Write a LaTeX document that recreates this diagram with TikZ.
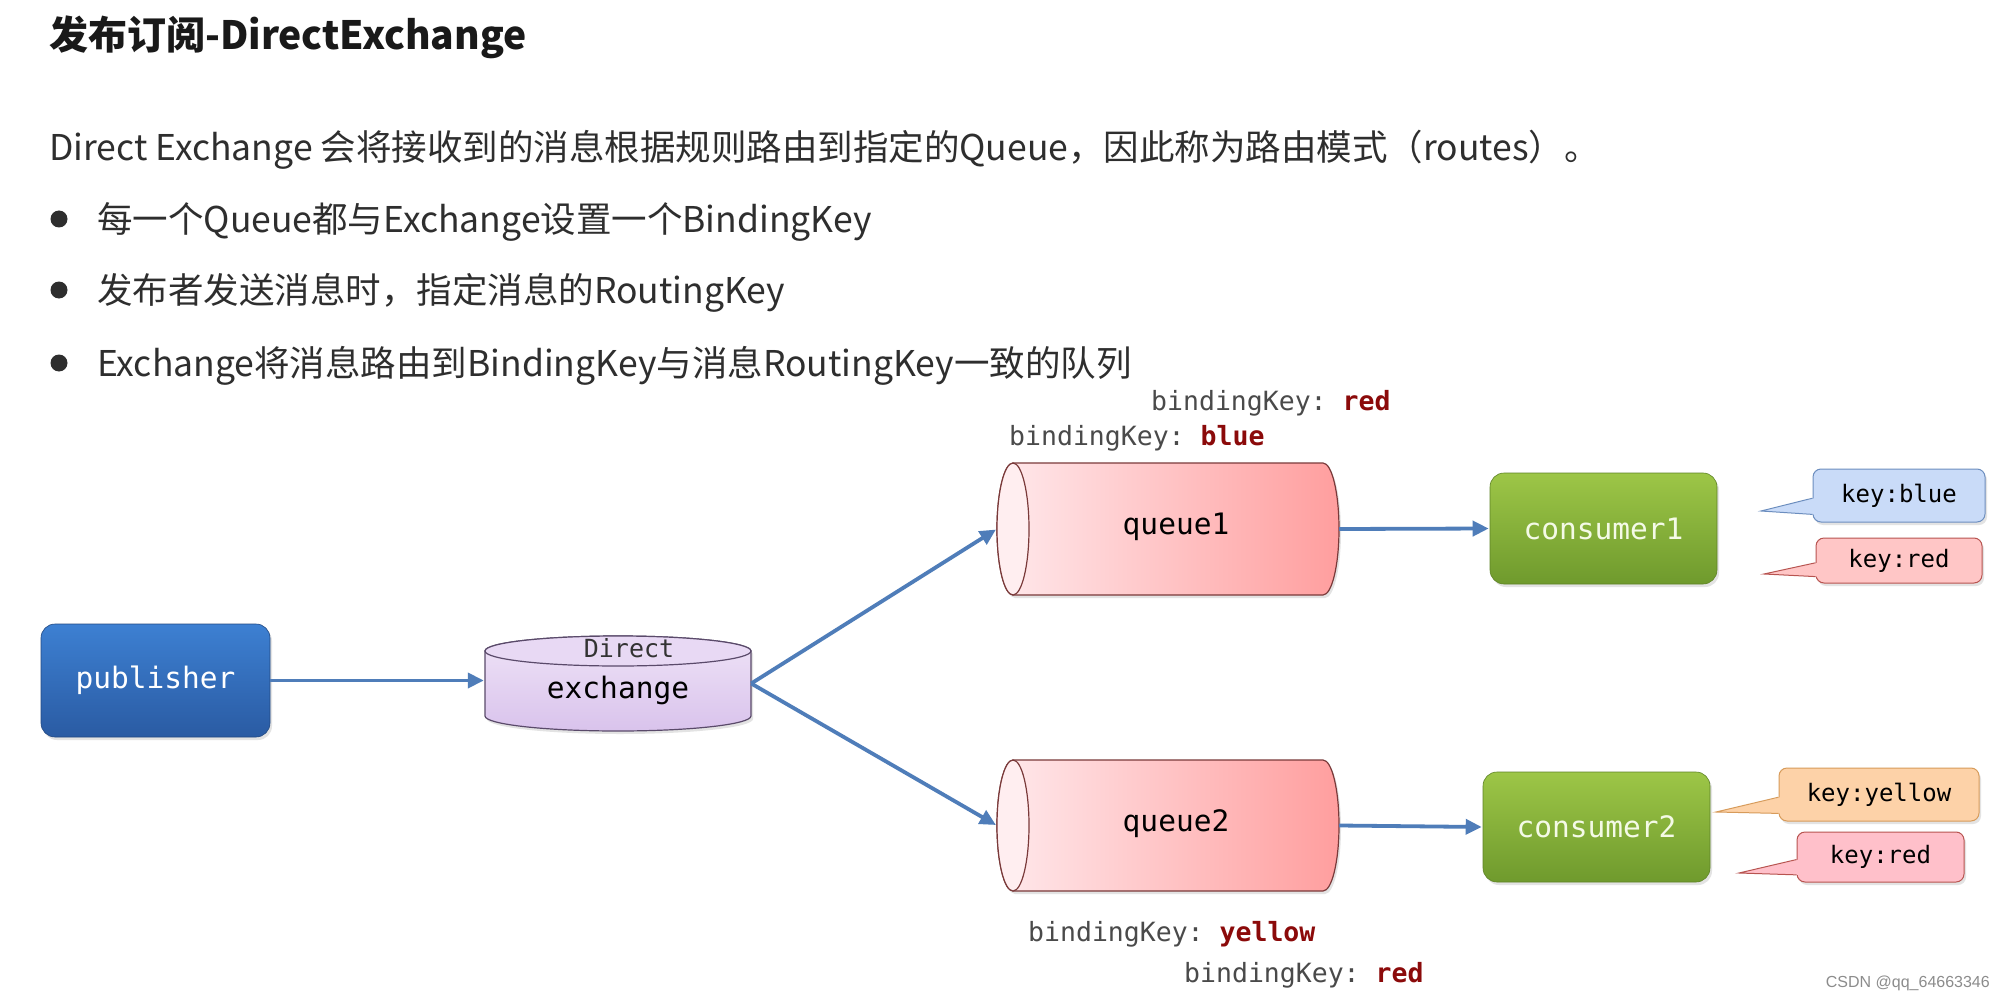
\documentclass[tikz,border=0pt]{standalone}
\usepackage{fontspec}
\setmainfont{Noto Sans CJK SC}
\newfontfamily\monof{DejaVu Sans Mono}
\newfontfamily\wmfont{Liberation Sans}
\usetikzlibrary{arrows.meta,shadows,calc}
\definecolor{arrowblue}{HTML}{4F7DB9}
\definecolor{bodytext}{HTML}{2E2E2E}
\definecolor{keygray}{HTML}{4A4A4A}
\definecolor{keyred}{HTML}{8B0A0A}
\definecolor{pubtop}{HTML}{3D80D2}
\definecolor{pubbot}{HTML}{2A5BA3}
\definecolor{contop}{HTML}{9DC647}
\definecolor{conbot}{HTML}{6F9A2D}
\definecolor{context}{HTML}{F4FAE6}
\definecolor{qleft}{HTML}{FFE9EC}
\definecolor{qright}{HTML}{FF9E9E}
\definecolor{qend}{HTML}{FFEEF0}
\definecolor{qline}{HTML}{7A3A3A}
\definecolor{extop}{HTML}{EFE3F7}
\definecolor{exbot}{HTML}{D9C3EC}
\definecolor{exline}{HTML}{5A4A6A}
\definecolor{cbfill}{HTML}{C9DBF8}
\definecolor{cbline}{HTML}{6C8EBF}
\definecolor{crfill}{HTML}{FFC6C6}
\definecolor{crline}{HTML}{B85450}
\definecolor{cyfill}{HTML}{FDD2A8}
\definecolor{cyline}{HTML}{D79B5A}
\definecolor{cpfill}{HTML}{FFC0CA}
\frenchspacing
\begin{document}
\begin{tikzpicture}[x=1pt,y=-1pt,
  arr/.style={draw=arrowblue, line width=3.8pt, -{Triangle[length=16pt,width=15pt]}, shorten >=1pt},
  boxshadow/.style={drop shadow={opacity=0.22, shadow xshift=2pt, shadow yshift=-3pt}},
  pubbox/.style={rounded corners=14pt, top color=pubtop, bottom color=pubbot, draw=pubbot!80!black, line width=0.6pt,
     minimum width=229pt, minimum height=113pt, inner sep=0, text=white, font=\monof\fontsize{29.5}{34}\selectfont, boxshadow},
  conbox/.style={rounded corners=14pt, top color=contop, bottom color=conbot, draw=conbot!85!black, line width=0.6pt,
     minimum height=111pt, minimum width=227pt, inner sep=0, text=context, font=\monof\fontsize{29.5}{34}\selectfont, boxshadow},
  anchorbox/.style={draw=none, inner sep=0},
  shapetext/.style={inner sep=0, text=black, font=\monof\fontsize{29.5}{34}\selectfont},
  keybox/.style={rounded corners=8pt, line width=1pt, inner sep=0, text=black, font=\monof\fontsize{24}{28}\selectfont},
  bkey/.style={anchor=base west, inner sep=0, text=keygray, font=\monof\fontsize{26.5}{30}\selectfont},
  body/.style={anchor=base west, inner sep=0, text=bodytext, font=\fontsize{35.5}{42}\selectfont},
  dot/.style={fill=bodytext}
]
\fill[white] (0,0) rectangle (2005,995);
\useasboundingbox (0,0) rectangle (2005,995);

% ---------- texts ----------
\node[anchor=base west, inner sep=0, text=black!90, font=\fontsize{39}{45}\selectfont\bfseries] (title) at (49,50) {发布订阅-DirectExchange};
\node[body] (intro) at (49,160.5) {Direct Exchange 会将接收到的消息根据规则路由到指定的Queue，因此称为路由模式（routes）。};
\fill[dot] (59,219) circle (8.5);
\node[body] (b1) at (97,232.5) {每一个Queue都与Exchange设置一个BindingKey};
\fill[dot] (59,290) circle (8.5);
\node[body] (b2) at (97,303.5) {发布者发送消息时，指定消息的RoutingKey};
\fill[dot] (59,363) circle (8.5);
\node[body] (b3) at (97,376.5) {Exchange将消息路由到BindingKey与消息RoutingKey一致的队列};

% ---------- publisher ----------
\node[pubbox] (pub) at (155.5,680.5) {publisher};

% ---------- exchange (vertical cylinder) ----------
\path[top color=extop, bottom color=exbot, draw=exline, line width=1.2pt, boxshadow]
  (485,651) -- (485,716) arc[start angle=180,end angle=0,x radius=133,y radius=15]
  -- (751,651) arc[start angle=0,end angle=-180,x radius=133,y radius=15] -- cycle;
\path[fill=extop!70!exbot, draw=exline, line width=1.2pt] (618,651) ellipse[x radius=133,y radius=15];
\node[anchorbox, minimum width=266pt, minimum height=95pt] (ex) at (618,683.5) {};
\node[shapetext, font=\monof\fontsize{25}{30}\selectfont, text=black!80] (exdirect) at (629,648) {Direct};
\node[shapetext] (exname) at (618,690) {exchange};

% ---------- queue1 ----------
\path[left color=qleft, right color=qright, draw=qline, line width=1.2pt, boxshadow]
  (1013,463) -- (1323,463) arc[start angle=-90,end angle=90,x radius=16,y radius=66]
  -- (1013,595) arc[start angle=90,end angle=270,x radius=16,y radius=66] -- cycle;
\path[fill=qend, draw=qline, line width=1.2pt] (1013,529) ellipse[x radius=16,y radius=66];
\node[anchorbox, minimum width=342pt, minimum height=132pt] (q1) at (1168,529) {};
\node[shapetext] (q1t) at (1176,527) {queue1};

% ---------- queue2 ----------
\path[left color=qleft, right color=qright, draw=qline, line width=1.2pt, boxshadow]
  (1013,760) -- (1323,760) arc[start angle=-90,end angle=90,x radius=16,y radius=65.5]
  -- (1013,891) arc[start angle=90,end angle=270,x radius=16,y radius=65.5] -- cycle;
\path[fill=qend, draw=qline, line width=1.2pt] (1013,825.5) ellipse[x radius=16,y radius=65.5];
\node[anchorbox, minimum width=342pt, minimum height=131pt] (q2) at (1168,825.5) {};
\node[shapetext] (q2t) at (1176,824) {queue2};

% ---------- consumers ----------
\node[conbox] (c1) at (1603.5,528.5) {consumer1};
\node[conbox, minimum height=110pt] (c2) at (1596.5,827) {consumer2};

% ---------- connectors ----------
\draw[arr] (pub.east) -- (pub.east -| ex.west);
\draw[arr] (ex.east) -- (q1.west);
\draw[arr] (ex.east) -- (q2.west);
\draw[arr] (q1.east) -- (c1.west);
\draw[arr] (q2.east) -- (c2.west);

% ---------- binding keys ----------
\node[bkey] (bk1) at (1151,410) {bindingKey: \textbf{\color{keyred}red}};
\node[bkey] (bk2) at (1009,445) {bindingKey: \textbf{\color{keyred}blue}};
\node[bkey] (bk3) at (1028,941) {bindingKey: \textbf{\color{keyred}yellow}};
\node[bkey] (bk4) at (1184,982) {bindingKey: \textbf{\color{keyred}red}};

% ---------- callouts ----------
\coordinate (t1) at (1761,511);
\coordinate (t2) at (1764,574);
\coordinate (t3) at (1716,812);
\coordinate (t4) at (1739,873);
\node[keybox, fill=cbfill, draw=cbline, minimum width=172pt, minimum height=53pt, boxshadow] (kb1) at (1899,495.5) {key:blue};
\node[keybox, fill=crfill, draw=crline, minimum width=166pt, minimum height=45pt, boxshadow] (kr1) at (1899,560.5) {key:red};
\node[keybox, fill=cyfill, draw=cyline, minimum width=200pt, minimum height=53pt, boxshadow] (ky2) at (1879,794.5) {key:yellow};
\node[keybox, fill=cpfill, draw=crline, minimum width=167pt, minimum height=50pt, boxshadow] (kr2) at (1880.5,857) {key:red};
\foreach \n/\t/\f/\l in {kb1/t1/cbfill/cbline, kr1/t2/crfill/crline, ky2/t3/cyfill/cyline, kr2/t4/cpfill/crline}{
  \fill[\f] ($(\n.north west)!0.55!(\n.south west)+(2,0)$) -- (\t) -- ($(\n.north west)!0.85!(\n.south west)+(2,0)$) -- cycle;
  \draw[\l, line width=1pt, line join=miter] ($(\n.north west)!0.55!(\n.south west)$) -- (\t) -- ($(\n.north west)!0.85!(\n.south west)$);
}

% ---------- watermark ----------
\node[anchor=base east, inner sep=0, text=black!45, font=\wmfont\fontsize{16}{18}\selectfont] (wm) at (1990,987) {CSDN @qq\_64663346};
\end{tikzpicture}
\end{document}
